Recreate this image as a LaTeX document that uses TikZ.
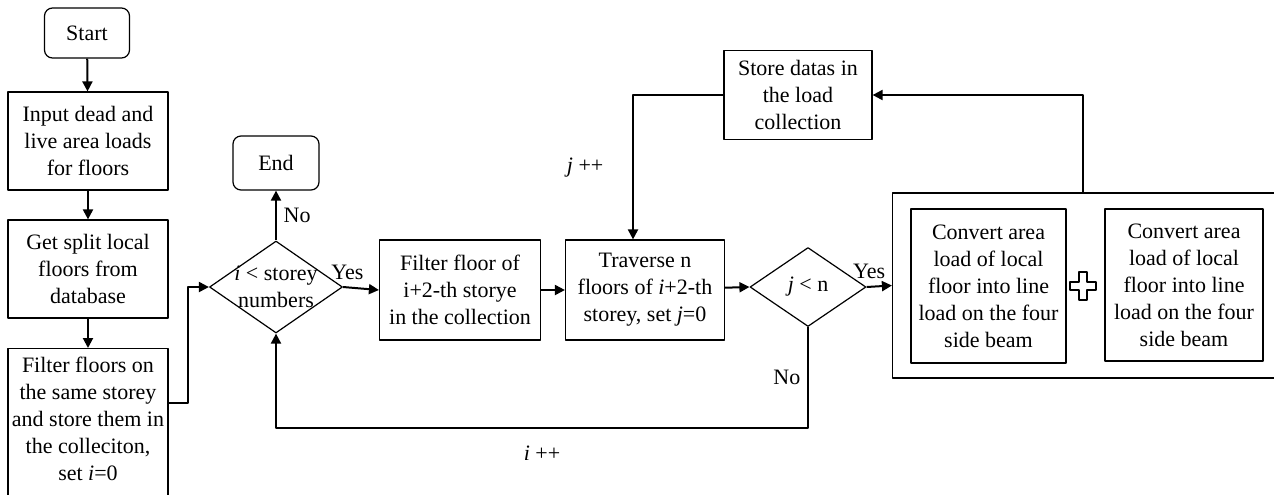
\documentclass[tikz,border=0pt]{standalone}
\usepackage{fontspec}
\setmainfont{Liberation Serif}
\usetikzlibrary{shapes.geometric,arrows.meta,calc}
\tikzset{
  process/.style={draw,line width=0.6pt,align=center,inner sep=0pt},
  startstop/.style={process,rounded corners=4pt},
  decision/.style={draw,diamond,line width=0.6pt,align=center,inner sep=-6pt},
  arrow/.style={line width=1pt,-{Triangle[length=5pt,width=5pt]}},
}
\begin{document}
\begin{tikzpicture}[x=0.5pt,y=-0.5pt,line join=round,font=\fontsize{11}{13.5}\selectfont]
\useasboundingbox (0,0) rectangle (1274,494);
\clip (0,0) rectangle (1274,494);
% left column
\node[startstop,minimum width=42.5pt,minimum height=25pt] (start) at (87,33) {Start};
\node[process,minimum width=80pt,minimum height=49pt] (input) at (88,141) {Input dead and\\live area loads\\for floors};
\node[process,minimum width=80pt,minimum height=49pt] (split) at (88,269) {Get split local\\floors from\\database};
\node[process,minimum width=80pt,anchor=north,inner ysep=4pt,text depth=20pt] (filt) at (88,348) {Filter floors on\\the same storey\\and store them in\\the colleciton,\\set \textit{i}=0};
% middle row
\node[decision,minimum width=66.5pt,minimum height=46pt] (dec1) at (276,287) {\textit{i} < storey\\numbers};
\node[startstop,minimum width=43pt,minimum height=27pt] (end) at (276,163) {End};
\node[process,minimum width=80.5pt,minimum height=50pt] (ffloor) at (460,290) {Filter floor of\\i+2-th storye\\in the collection};
\node[process,minimum width=79.5pt,minimum height=50pt] (trav) at (645,290) {Traverse n\\floors of \textit{i}+2-th\\storey, set \textit{j}=0};
\node[process,minimum width=74pt,minimum height=44.5pt] (store) at (798,95) {Store datas in\\the load\\collection};
\node[decision,minimum width=58pt,minimum height=39.5pt] (dec2) at (808,287) {\textit{j} < n};
% right block
\node[process,minimum width=198.5pt,minimum height=92.5pt] (big) at (1091,285.5) {};
\node[process,minimum width=77.5pt,minimum height=77pt] (conv1) at (988.5,286) {Convert area\\load of local\\floor into line\\load on the four\\side beam};
\node[process,minimum width=79pt,minimum height=76pt] (conv2) at (1184,285) {Convert area\\load of local\\floor into line\\load on the four\\side beam};
\coordinate (plus) at (1083,286);
\draw[line width=0.6pt] (plus) ++(-4,-14) -- ++(8,0) -- ++(0,10) -- ++(9,0) -- ++(0,8) -- ++(-9,0)
  -- ++(0,10) -- ++(-8,0) -- ++(0,-10) -- ++(-9,0) -- ++(0,-8) -- ++(9,0) -- cycle;
% connectors
\draw[arrow] (start) -- (input);
\draw[arrow] (input) -- (split);
\draw[arrow] (split) -- (filt);
\draw[arrow] ($(filt.north east)+(0,55)$) -- ++(19,0) |- (dec1.west);
\draw[arrow] (dec1.north) -- node[right] {No} (end.south);
\draw[arrow] (dec1.east) -- node[above,pos=0.12] {Yes} (ffloor.west);
\draw[arrow] (ffloor) -- (trav);
\draw[arrow] (trav) -- (dec2.west);
\draw[arrow] (dec2.east) -- node[above,pos=0.1] {Yes} (big.west);
\draw[arrow] (plus |- big.north) |- (store.east);
\draw[arrow] (store.west) -| node[left=11pt,pos=0.75] {\textit{j} ++} ($(trav.north)+(-12,0)$);
\draw[arrow] (dec2.south) -- node[left] {No} ++(0,101) -| node[below=5pt,pos=0.25] {\textit{i} ++} (dec1.south);
\end{tikzpicture}
\end{document}
